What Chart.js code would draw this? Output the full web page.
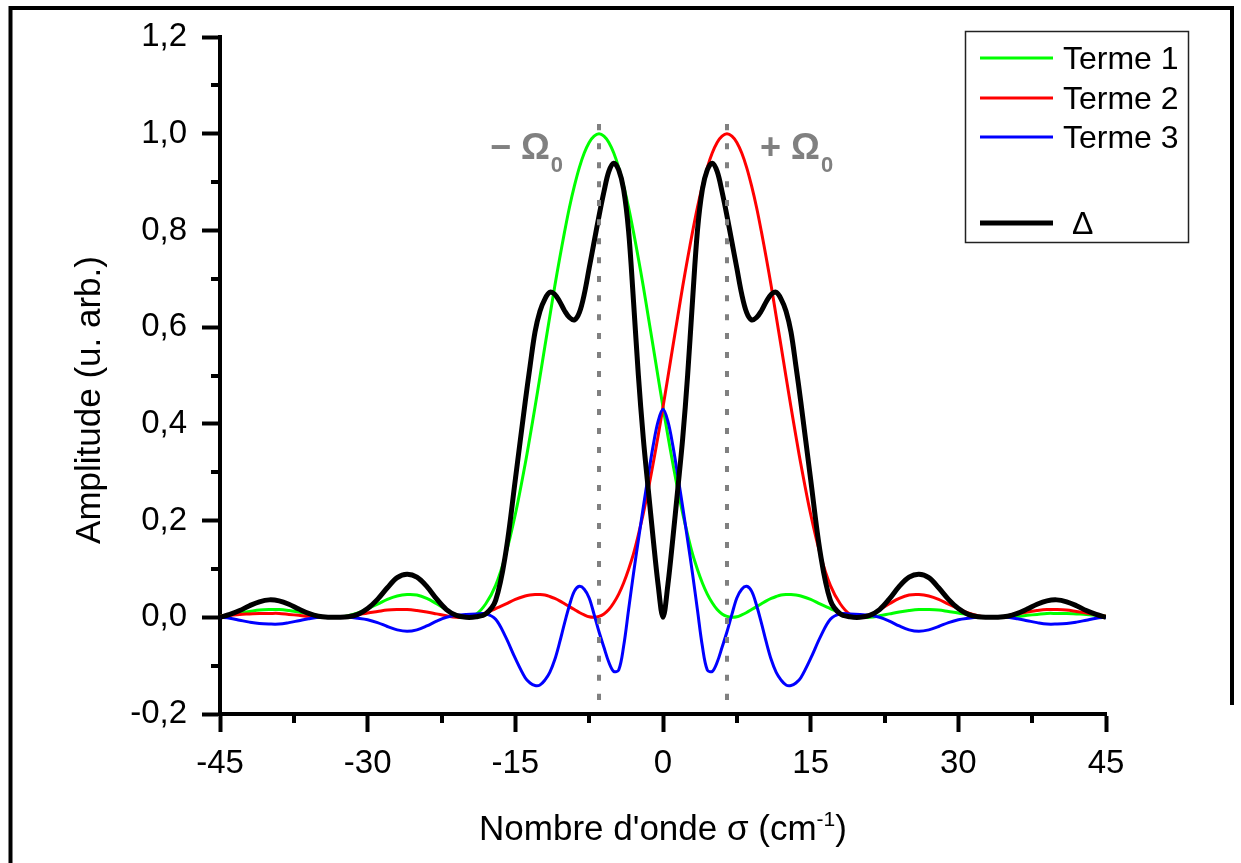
<!DOCTYPE html>
<html>
<head>
<meta charset="utf-8">
<script src="https://cdn.jsdelivr.net/npm/chart.js@4.4.1/dist/chart.umd.min.js"></script>
<style>
  html, body { margin: 0; padding: 0; background: #fff; }
  canvas { display: block; }
</style>
</head>
<body>
<canvas id="chart" width="1241" height="863"></canvas>
<script>
// nombre d'onde sigma (cm-1), pas de 0,5 dans la zone centrale
const sigma = [-45,-44,-43,-42,-41,-40,-39,-38,-37,-36,-35,-34,-33,-32,-31,-30,-29,-28,-27,-26,-25,-24,-23,-22,-21,-20,-19,-18,-17,-16,-15,
  -14,-13.5,-13,-12.5,-12,-11.5,-11,-10.5,-10,-9.5,-9,-8.5,-8,-7.5,-7,-6.5,-6,-5.5,-5,-4.5,-4,-3.5,-3,-2.5,-2,-1.5,-1,-0.5,
  0,0.5,1,1.5,2,2.5,3,3.5,4,4.5,5,5.5,6,6.5,7,7.5,8,8.5,9,9.5,10,10.5,11,11.5,12,12.5,13,13.5,14,
  15,16,17,18,19,20,21,22,23,24,25,26,27,28,29,30,31,32,33,34,35,36,37,38,39,40,41,42,43,44,45];

const terme1 = [0.002,0.005,0.009,0.012,0.015,0.016,0.016,0.014,0.011,0.007,0.003,0.000,0.000,0.003,0.009,0.018,0.027,0.037,0.044,0.047,0.046,0.039,0.028,0.016,0.005,0.000,0.006,0.028,0.066,0.128,0.213,
  0.317,0.375,0.435,0.497,0.560,0.622,0.684,0.742,0.797,0.848,0.892,0.930,0.960,0.982,0.995,1.000,0.995,0.982,0.960,0.930,0.892,0.848,0.797,0.742,0.684,0.622,0.560,0.497,
  0.435,0.375,0.318,0.264,0.215,0.171,0.131,0.099,0.071,0.048,0.030,0.016,0.007,0.002,0.000,0.001,0.005,0.010,0.016,0.022,0.028,0.034,0.039,0.043,0.046,0.047,0.047,0.046,0.044,
  0.037,0.027,0.018,0.009,0.003,0.000,0.000,0.003,0.007,0.011,0.014,0.016,0.016,0.015,0.012,0.009,0.005,0.002,0.001,0.000,0.001,0.002,0.004,0.006,0.008,0.008,0.008,0.007,0.006,0.004,0.002];

const terme2 = [0.002,0.004,0.006,0.007,0.008,0.008,0.008,0.006,0.004,0.002,0.001,0.000,0.001,0.002,0.005,0.009,0.012,0.015,0.016,0.016,0.014,0.011,0.007,0.003,0.000,0.000,0.003,0.009,0.018,0.027,0.037,
  0.044,0.046,0.047,0.047,0.046,0.043,0.039,0.034,0.028,0.022,0.016,0.010,0.005,0.001,0.000,0.002,0.007,0.016,0.030,0.048,0.071,0.099,0.131,0.171,0.215,0.264,0.318,0.375,
  0.435,0.497,0.560,0.622,0.684,0.742,0.797,0.848,0.892,0.930,0.960,0.982,0.995,1.000,0.995,0.982,0.960,0.930,0.892,0.848,0.797,0.742,0.684,0.622,0.560,0.497,0.435,0.375,0.317,
  0.213,0.128,0.066,0.028,0.006,0.000,0.005,0.016,0.028,0.039,0.046,0.047,0.044,0.037,0.027,0.018,0.009,0.003,0.000,0.000,0.003,0.007,0.011,0.014,0.016,0.016,0.015,0.012,0.009,0.005,0.002];

const terme3 = [0.000,-0.002,-0.006,-0.010,-0.013,-0.014,-0.014,-0.011,-0.007,-0.003,0.000,0.000,0.000,0.000,-0.002,-0.005,-0.011,-0.019,-0.026,-0.029,-0.026,-0.018,-0.008,0.000,0.004,0.006,0.007,0.007,-0.004,-0.040,-0.085,
  -0.125,-0.136,-0.141,-0.140,-0.130,-0.114,-0.088,-0.052,-0.012,0.025,0.054,0.064,0.058,0.040,0.006,-0.030,-0.062,-0.093,-0.112,-0.109,-0.060,0.015,0.090,0.160,0.228,0.293,0.355,0.405,
  0.430,0.405,0.355,0.293,0.228,0.160,0.090,0.015,-0.060,-0.109,-0.112,-0.093,-0.062,-0.030,0.006,0.040,0.058,0.064,0.054,0.025,-0.012,-0.052,-0.088,-0.114,-0.130,-0.140,-0.141,-0.136,-0.125,
  -0.085,-0.040,-0.004,0.007,0.007,0.006,0.004,0.000,-0.008,-0.018,-0.026,-0.029,-0.026,-0.019,-0.011,-0.005,-0.002,0.000,0.000,0.000,0.000,-0.003,-0.007,-0.011,-0.014,-0.014,-0.013,-0.010,-0.006,-0.002,0.000];

const delta = [0.000,0.006,0.014,0.024,0.032,0.036,0.034,0.027,0.017,0.008,0.002,0.000,0.000,0.001,0.006,0.018,0.037,0.061,0.082,0.089,0.083,0.064,0.038,0.016,0.004,0.000,0.001,0.007,0.035,0.130,0.285,
  0.445,0.520,0.590,0.633,0.658,0.672,0.668,0.653,0.634,0.620,0.615,0.630,0.668,0.722,0.776,0.830,0.880,0.922,0.939,0.925,0.885,0.800,0.655,0.500,0.370,0.265,0.163,0.068,
  0.000,0.068,0.163,0.265,0.370,0.500,0.655,0.800,0.885,0.925,0.939,0.922,0.880,0.830,0.776,0.722,0.668,0.630,0.615,0.620,0.634,0.653,0.668,0.672,0.658,0.633,0.590,0.520,0.445,
  0.285,0.130,0.035,0.007,0.001,0.000,0.004,0.016,0.038,0.064,0.083,0.089,0.082,0.061,0.037,0.018,0.006,0.001,0.000,0.000,0.002,0.008,0.017,0.027,0.034,0.036,0.032,0.024,0.014,0.006,0.000];

const omega0 = 6.5;
const omegaSpan = [1.02, -0.19];

const xTicks = [-45, -30, -15, 0, 15, 30, 45];
const xMinor = [-37.5, -22.5, -7.5, 7.5, 22.5, 37.5];
const yTicks = [-0.2, 0, 0.2, 0.4, 0.6, 0.8, 1.0, 1.2];
const yTickLabels = ['-0,2', '0,0', '0,2', '0,4', '0,6', '0,8', '1,0', '1,2'];
const yMinor = [-0.1, 0.1, 0.3, 0.5, 0.7, 0.9, 1.1];

const FONT = "'Liberation Sans', Arial, sans-serif";
const GREY = '#808080';

function pts(vals) {
  return sigma.map(function (s, i) { return { x: s, y: vals[i] }; });
}

function vline(x) {
  return [{ x: x, y: omegaSpan[0] }, { x: x, y: omegaSpan[1] }];
}

var decor = {
  id: 'decor',
  beforeDraw: function (chart) {
    var ctx = chart.ctx;
    ctx.save();
    ctx.fillStyle = '#fff';
    ctx.fillRect(0, 0, chart.width, chart.height);
    ctx.restore();
  },
  afterDraw: function (chart) {
    var ctx = chart.ctx;
    var xs = chart.scales.x, ys = chart.scales.y;
    var area = chart.chartArea;
    ctx.save();

    // petites graduations
    ctx.strokeStyle = '#000';
    ctx.lineWidth = 4;
    ctx.beginPath();
    xMinor.forEach(function (v) {
      var px = Math.round(xs.getPixelForValue(v));
      ctx.moveTo(px, area.bottom);
      ctx.lineTo(px, area.bottom + 9);
    });
    yMinor.forEach(function (v) {
      var py = Math.round(ys.getPixelForValue(v));
      ctx.moveTo(area.left - 9, py);
      ctx.lineTo(area.left, py);
    });
    ctx.stroke();

    // -Omega0 / +Omega0
    ctx.fillStyle = GREY;
    ctx.textBaseline = 'alphabetic';
    ctx.textAlign = 'left';
    var bigF = 'bold 36px ' + FONT, subF = 'bold 22px ' + FONT;
    ctx.font = bigF;
    var wm = ctx.measureText('\u2212 \u03A9').width;
    var wp = ctx.measureText('+ \u03A9').width;
    ctx.font = subF;
    var w0 = ctx.measureText('0').width;
    var lx = xs.getPixelForValue(-omega0) - 36 - wm - w0 - 1;
    ctx.font = bigF;
    ctx.fillText('\u2212 \u03A9', lx, 159);
    ctx.font = subF;
    ctx.fillText('0', lx + wm + 1, 172);
    var rx = xs.getPixelForValue(omega0) + 33;
    ctx.font = bigF;
    ctx.fillText('+ \u03A9', rx, 159);
    ctx.font = subF;
    ctx.fillText('0', rx + wp + 1, 172);

    // legende
    ctx.strokeStyle = '#222';
    ctx.lineWidth = 1.5;
    ctx.strokeRect(965.5, 31.5, 223, 211);
    var rows = [58, 98, 137, 223];
    ctx.font = '32px ' + FONT;
    ctx.fillStyle = '#000';
    chart.data.datasets.forEach(function (ds) {
      if (ds.legendRow === undefined) return;
      var y = rows[ds.legendRow];
      ctx.strokeStyle = ds.borderColor;
      ctx.lineWidth = ds.borderWidth;
      ctx.beginPath();
      ctx.moveTo(980, y);
      ctx.lineTo(1053, y);
      ctx.stroke();
      ctx.fillText(ds.label, ds.label === '\u0394' ? 1072 : 1063, y + 11);
    });

    // titres des axes
    ctx.fillStyle = '#000';
    var t1 = "Nombre d'onde \u03C3 (cm", t2 = '-1', t3 = ')';
    ctx.font = '35px ' + FONT;
    var a = ctx.measureText(t1).width, c = ctx.measureText(t3).width;
    ctx.font = '21px ' + FONT;
    var b = ctx.measureText(t2).width;
    var sx = (area.left + area.right) / 2 - (a + b + c) / 2;
    ctx.font = '35px ' + FONT;
    ctx.fillText(t1, sx, 840);
    ctx.fillText(t3, sx + a + b, 840);
    ctx.font = '21px ' + FONT;
    ctx.fillText(t2, sx + a, 826);

    ctx.save();
    ctx.translate(100, 400);
    ctx.rotate(-Math.PI / 2);
    ctx.textAlign = 'center';
    ctx.font = '35px ' + FONT;
    ctx.fillText('Amplitude (u. arb.)', 0, 0);
    ctx.restore();

    // cadre
    ctx.strokeStyle = '#000';
    ctx.lineWidth = 4;
    ctx.beginPath();
    ctx.moveTo(10.5, 863);
    ctx.lineTo(10.5, 8);
    ctx.lineTo(1232, 8);
    ctx.lineTo(1232, 705);
    ctx.stroke();

    ctx.restore();
  }
};

var chart = new Chart(document.getElementById('chart'), {
  type: 'line',
  data: {
    datasets: [
      { label: 'markOmegaL', data: vline(-omega0), borderColor: GREY, borderWidth: 4, borderDash: [6, 13], order: -1 },
      { label: 'markOmegaR', data: vline(omega0), borderColor: GREY, borderWidth: 4, borderDash: [6, 13], order: -1 },
      { label: 'Terme 1', data: pts(terme1), borderColor: '#00ff00', borderWidth: 3, order: 4, legendRow: 0 },
      { label: 'Terme 2', data: pts(terme2), borderColor: '#ff0000', borderWidth: 3, order: 3, legendRow: 1 },
      { label: 'Terme 3', data: pts(terme3), borderColor: '#0000ff', borderWidth: 3, order: 2, legendRow: 2 },
      { label: '\u0394', data: pts(delta), borderColor: '#000000', borderWidth: 5, order: 1, legendRow: 3 }
    ]
  },
  options: {
    responsive: false,
    devicePixelRatio: 1,
    animation: false,
    layout: { padding: { left: 0, right: 135, top: 37, bottom: 0 } },
    elements: {
      point: { radius: 0, hoverRadius: 0 },
      line: { tension: 0.35, fill: false, borderCapStyle: 'butt', borderJoinStyle: 'round' }
    },
    plugins: {
      legend: { display: false },
      tooltip: { enabled: false }
    },
    scales: {
      x: {
        type: 'linear',
        min: -45,
        max: 45,
        afterBuildTicks: function (s) { s.ticks = xTicks.map(function (v) { return { value: v }; }); },
        afterFit: function (s) { s.height = 149; },
        ticks: {
          autoSkip: false,
          maxRotation: 0,
          padding: 12,
          color: '#000',
          font: { family: FONT, size: 33 },
          callback: function (v) { return String(v); }
        },
        grid: { drawOnChartArea: false, drawTicks: true, tickLength: 18, tickWidth: 4, tickColor: '#000', color: '#000' },
        border: { display: true, width: 4, color: '#000' }
      },
      y: {
        type: 'linear',
        min: -0.2,
        max: 1.2,
        afterBuildTicks: function (s) { s.ticks = yTicks.map(function (v) { return { value: v }; }); },
        afterFit: function (s) { s.width = 220; },
        ticks: {
          autoSkip: false,
          padding: 15,
          color: '#000',
          font: { family: FONT, size: 33 },
          callback: function (v, i) { return yTickLabels[i]; }
        },
        grid: { drawOnChartArea: false, drawTicks: true, tickLength: 18, tickWidth: 4, tickColor: '#000', color: '#000' },
        border: { display: true, width: 4, color: '#000' }
      }
    }
  },
  plugins: [decor]
});
</script>
</body>
</html>
